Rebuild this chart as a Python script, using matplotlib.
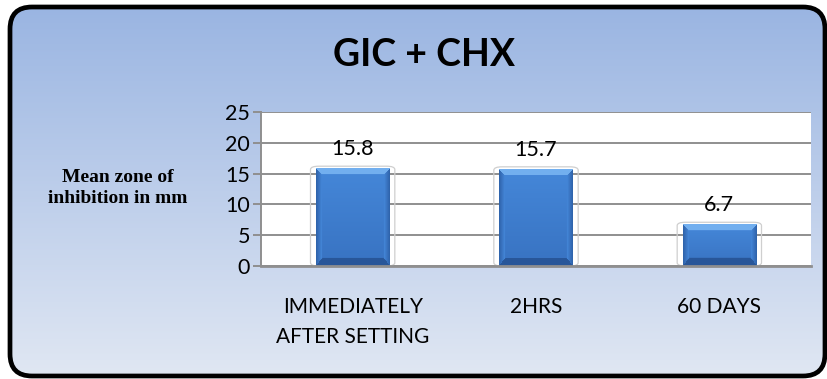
import numpy as np
import matplotlib
matplotlib.use("Agg")
import matplotlib.pyplot as plt
from matplotlib.patches import FancyBboxPatch

# Chart data
categories = ["IMMEDIATELY\nAFTER SETTING", "2HRS", "60 DAYS"]
values = [15.8, 15.7, 6.7]
value_labels = ["15.8", "15.7", "6.7"]
y_ticks = [0, 5, 10, 15, 20, 25]
title = "GIC + CHX"
y_label = "Mean zone of\ninhibition in mm"

W, H = 828, 379
fig = plt.figure(figsize=(W / 100, H / 100), dpi=100)
fig.patch.set_facecolor("white")

# Background panel with a vertical blue gradient and rounded black frame
bg = fig.add_axes([0, 0, 1, 1])
bg.set_xlim(0, W)
bg.set_ylim(0, H)
bg.axis("off")
top_c = np.array([154, 181, 226]) / 255
bot_c = np.array([224, 231, 243]) / 255
t = np.linspace(0, 1, 256)[:, None]
grad = (top_c[None, :] * (1 - t) + bot_c[None, :] * t)[:, None, :]
frame = FancyBboxPatch((10, 3), 815, 369,
                       boxstyle="round,pad=0,rounding_size=22",
                       facecolor="none", edgecolor="black", linewidth=3.4,
                       zorder=3)
bg.add_patch(frame)
im = bg.imshow(grad, extent=(10, 825, 3, 372), origin="upper",
               aspect="auto", zorder=1)
im.set_clip_path(frame)

# Plot area
ax = fig.add_axes([261 / W, (H - 266) / H, (811 - 261) / W, (266 - 112) / H])
ax.set_facecolor("white")
x = np.arange(len(categories))
ax.set_xlim(-0.5, len(categories) - 0.5)
ax.set_ylim(0, 25)
ax.set_yticks(y_ticks)
ax.set_yticklabels([str(v) for v in y_ticks])
ax.yaxis.grid(True, color="#8f8f8f", linewidth=1.4)
ax.set_axisbelow(True)
for s in ["top", "right"]:
    ax.spines[s].set_visible(False)
ax.spines["left"].set_color("#8f8f8f")
ax.spines["left"].set_linewidth(1.4)
ax.spines["bottom"].set_color("#8f8f8f")
ax.spines["bottom"].set_linewidth(2.0)
ax.tick_params(axis="y", length=6, width=1.4, color="#8f8f8f",
               labelsize=15.5, pad=2)
ax.tick_params(axis="x", length=0, labelsize=15, pad=22)
ax.set_xticks(x)
ax.set_xticklabels(categories, linespacing=1.65)
for lab in ax.get_xticklabels() + ax.get_yticklabels():
    lab.set_fontfamily("Lato")

bars = ax.bar(x, values, width=0.4, color="#3c7acb", zorder=2)

# Bevelled fill for each bar
px_per_x = (811 - 261) / len(categories)
px_per_y = (266 - 112) / 25.0
face_top = np.array([0.27, 0.53, 0.85])
face_bot = np.array([0.22, 0.45, 0.76])
c_top = np.array([0.45, 0.69, 0.94])
c_side = np.array([0.18, 0.38, 0.66])
c_bot = np.array([0.16, 0.34, 0.60])
bev = 6.0
for b in bars:
    x0, w, h = b.get_x(), b.get_width(), b.get_height()
    nx = int(round(w * px_per_x))
    ny = int(round(h * px_per_y))
    jj, ii = np.meshgrid(np.arange(nx) + 0.5, np.arange(ny) + 0.5)
    frac = ii / ny
    rgb = face_bot[None, None, :] * (1 - frac[..., None]) + \
        face_top[None, None, :] * frac[..., None]
    dl, dr = jj, nx - jj
    dt, db = ny - ii, ii
    dmin = np.minimum(np.minimum(dl, dr), np.minimum(dt, db * 0.75))
    edge = dmin < bev
    top_m = edge & (dt <= np.minimum(dl, dr)) & (dt <= db)
    bot_m = edge & (db * 0.75 <= np.minimum(dl, dr)) & ~top_m
    side_m = edge & ~top_m & ~bot_m
    rgb[top_m] = c_top
    rgb[bot_m] = c_bot
    shade = (dmin / bev)[..., None]
    rgb[side_m] = (c_side * (1 - shade) + face_top * shade)[side_m]
    ax.imshow(rgb, extent=(x0, x0 + w, 0, h), origin="lower",
              aspect="auto", zorder=2.5, interpolation="bilinear")
    # soft outline around the bar
    ax.add_patch(FancyBboxPatch((x0 - 0.03, 0), w + 0.06, h + 0.4,
                                boxstyle="round,pad=0,rounding_size=0.045",
                                facecolor="none", edgecolor="#cfcfcf",
                                linewidth=0.9, zorder=2.2,
                                mutation_aspect=12))
    b.set_visible(False)

ax.set_xlim(-0.5, len(categories) - 0.5)
ax.set_ylim(0, 25)

for xi, v, lab in zip(x, values, value_labels):
    ax.annotate(lab, (xi, v), xytext=(0, 7), textcoords="offset points",
                ha="center", va="bottom", fontsize=15.5, family="Lato",
                zorder=4)

fig.text(424 / W, 1 - 55 / H, title, ha="center", va="center",
         fontsize=27, fontweight="bold", family="Lato")
fig.text(118 / W, 1 - 188 / H, y_label, ha="center", va="center",
         fontsize=14, fontweight="bold", family="Liberation Serif",
         linespacing=1.3)

fig.savefig("out.png", dpi=100)
